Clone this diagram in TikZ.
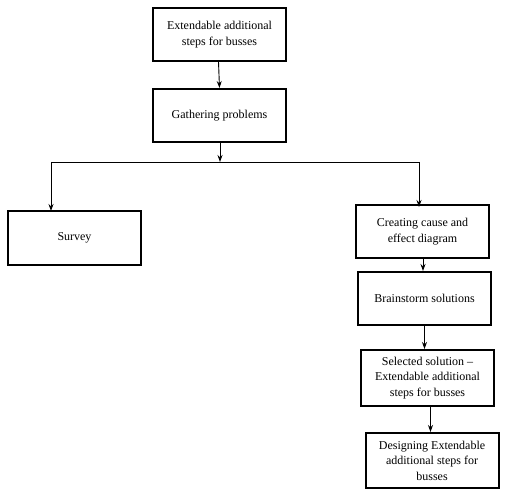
\documentclass[tikz,border=0pt]{standalone}
\usepackage{fontspec}
\setmainfont{Liberation Serif}
\usetikzlibrary{arrows.meta}
\begin{document}
\begin{tikzpicture}[x=1bp,y=-1bp,
  box/.style={draw=black,line width=2bp,minimum width=133bp,minimum height=53bp,align=center,inner sep=2bp,
    font=\fontsize{12bp}{15.5bp}\selectfont},
  conn/.style={draw=black,line width=0.9bp},
  arr/.style={conn,-{Stealth[length=7bp,width=5bp]}}]
\useasboundingbox[fill=white] (0,0) rectangle (524,499);
\node[box] (b1) at (219.5,34.5) {Extendable additional\\steps for busses};
\node[box] (b2) at (219.5,115.5) {Gathering problems};
\node[box,minimum height=54bp] (sv) at (74.5,238) {Survey};
\node[box] (ce) at (422.5,231.5) {Creating cause and\\effect diagram};
\node[box] (bs) at (424.5,298.5) {Brainstorm solutions};
\node[box,minimum height=56bp] (ss) at (427.5,378) {Selected solution --\\Extendable additional\\steps for busses};
\node[box,minimum height=55bp] (de) at (432,460.5) {Designing Extendable\\additional steps for\\busses};
\coordinate (j) at (220,162);
\coordinate (l) at (51,162);
\coordinate (r) at (419,162);
\draw[arr] (b1.south -| 218.5,0) -- (b2.north -| 219.5,0);
\draw[arr] (b2.south -| 220,0) -- (j);
\draw[conn] (l) -- (r);
\draw[arr] (l) -- ([yshift=-1bp]l |- sv.north);
\draw[arr] (r) -- ([yshift=-3bp]r |- ce.north);
\draw[arr] (ce.south -| 423,0) -- (bs.north -| 423,0);
\draw[arr] (bs.south -| 424.5,0) -- (ss.north -| 424.5,0);
\draw[arr] (ss.south -| 430.5,0) -- (de.north -| 430.5,0);
\end{tikzpicture}
\end{document}
